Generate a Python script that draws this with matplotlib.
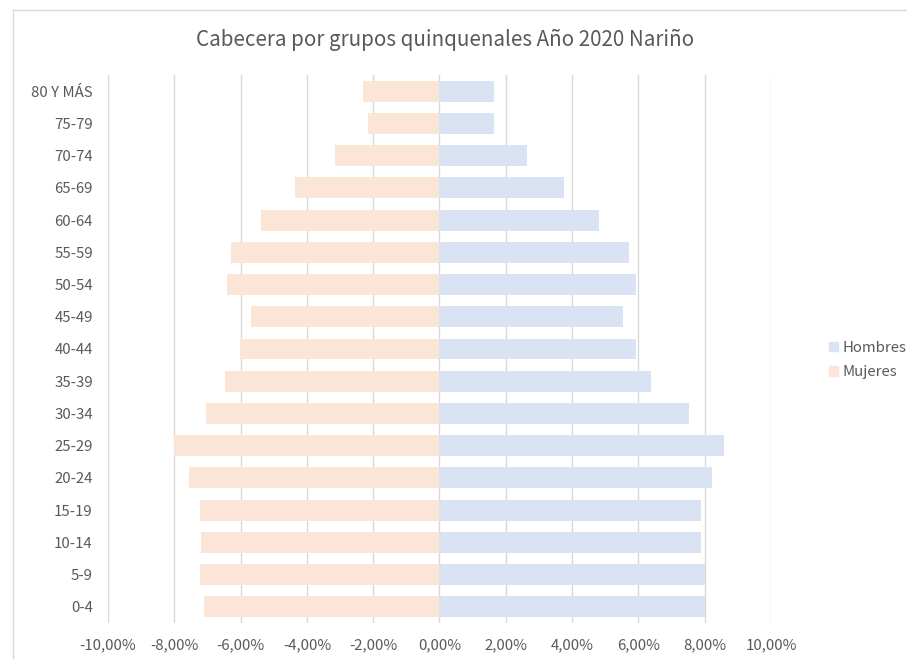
import numpy as np
import matplotlib
matplotlib.use("Agg")
import matplotlib.pyplot as plt
import matplotlib.ticker as ticker
from matplotlib.lines import Line2D
from matplotlib.patches import Patch

plt.rcParams['font.family'] = ['Noto Sans CJK JP', 'DejaVu Sans']

# grupos de edad (de abajo hacia arriba)
grupos = ['0-4', '5-9', '10-14', '15-19', '20-24', '25-29', '30-34', '35-39',
          '40-44', '45-49', '50-54', '55-59', '60-64', '65-69', '70-74',
          '75-79', '80 Y MÁS']
# porcentajes
hombres = [8.00, 8.01, 7.90, 7.90, 8.23, 8.57, 7.53, 6.37,
           5.92, 5.54, 5.92, 5.71, 4.80, 3.76, 2.64, 1.65, 1.65]
mujeres = [7.10, 7.22, 7.18, 7.22, 7.55, 8.00, 7.05, 6.47,
           6.01, 5.68, 6.42, 6.30, 5.39, 4.36, 3.15, 2.16, 2.32]

c_h = '#DAE3F3'
c_m = '#FBE5D6'
gris = '#595959'

def fmt_pct(value, pos):
    return f'{value:.2f}%'.replace('.', ',')

fig = plt.figure(figsize=(9.07, 6.59), dpi=100)
ax = fig.add_axes([108/907, 1-623/659, (771-108)/907, (623-75)/659])

y = np.arange(len(grupos))
ax.barh(y, hombres, height=0.65, color=c_h, label='Hombres', zorder=2)
ax.barh(y, -np.array(mujeres), height=0.65, color=c_m, label='Mujeres', zorder=2)

ax.set_xlim(-10, 10)
ax.set_ylim(-0.5, len(grupos) - 0.5)
ax.set_xticks(np.arange(-10, 11, 2))
ax.xaxis.set_major_formatter(ticker.FuncFormatter(fmt_pct))
ax.set_yticks(y)
ax.set_yticklabels(grupos)
ax.grid(axis='x', color='#D9D9D9', linewidth=1, zorder=0)
for s in ax.spines.values():
    s.set_visible(False)
ax.tick_params(axis='both', length=0, labelsize=10.8, labelcolor=gris)
ax.tick_params(axis='x', pad=11)
ax.tick_params(axis='y', pad=11)

fig.text(445/907, 1-40/659, 'Cabecera por grupos quinquenales Año 2020 Nariño',
         ha='center', va='center', fontsize=14.8, color=gris)

handles = [Patch(color=c_h, label='Hombres'), Patch(color=c_m, label='Mujeres')]
fig.legend(handles=handles, loc='center left', bbox_to_anchor=(815/907, 1-360/659),
           frameon=False, fontsize=10.8, labelcolor=gris, handlelength=0.6,
           handleheight=0.6, handletextpad=0.3, labelspacing=0.7)

# borde del gráfico
fig.add_artist(Line2D([13/907, 13/907], [0, 1-10/659], transform=fig.transFigure,
                      color='#D9D9D9', linewidth=1))
fig.add_artist(Line2D([13/907, 1], [1-10/659, 1-10/659], transform=fig.transFigure,
                      color='#D9D9D9', linewidth=1))

fig.savefig('out.png', dpi=100)
